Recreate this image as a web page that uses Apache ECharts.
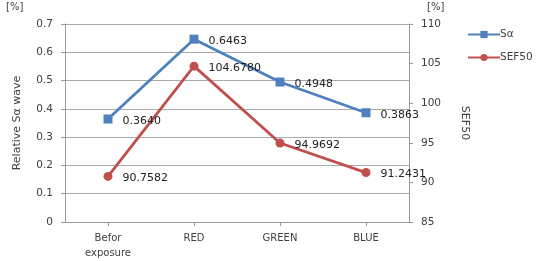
<!DOCTYPE html>
<html><head><meta charset="utf-8">
<script src="https://cdn.jsdelivr.net/npm/echarts@6/dist/echarts.min.js"></script>
<style>html,body{margin:0;padding:0;background:#fff}#c{width:542px;height:261px}</style>
</head><body><div id="c"></div>
<script>
const categories = ['Befor\nexposure', 'RED', 'GREEN', 'BLUE'];
const saValues = [0.3640, 0.6463, 0.4948, 0.3863];
const sefValues = [90.7582, 104.6780, 94.9692, 91.2431];
const seriesNames = ['S\u03b1', 'SEF50'];
const FONT = 'DejaVu Sans';
const chart = echarts.init(document.getElementById('c'), null, {renderer: 'canvas'});
const labelFmt4 = p => p.value.toFixed(4);
chart.setOption({
  animation: false,
  textStyle: {fontFamily: FONT},
  grid: {left: 65, right: 133, top: 24, bottom: 39},
  legend: {
    orient: 'vertical', left: 462, top: 24, itemGap: 12, itemWidth: 32, itemHeight: 9,
    textStyle: {fontFamily: FONT, fontSize: 10.5, color: '#404040', padding: [0,0,0,-5]},
    data: seriesNames
  },
  graphic: [
    {type: 'text', left: 6, top: 2, style: {text: '[%]', font: '10px ' + FONT, fill: '#404040'}},
    {type: 'text', left: 427, top: 2, style: {text: '[%]', font: '10px ' + FONT, fill: '#404040'}}
  ],
  xAxis: {
    type: 'category', data: categories, boundaryGap: true,
    axisLine: {lineStyle: {color: '#999', width: 1}},
    axisTick: {show: true, alignWithLabel: true, length: 4, lineStyle: {color: '#999'}},
    axisLabel: {fontFamily: FONT, fontSize: 10, color: '#404040', margin: 9, lineHeight: 15}
  },
  yAxis: [
    {
      type: 'value', min: 0, max: 0.7, interval: 0.1,
      name: 'Relative S\u03b1 wave', nameLocation: 'middle', nameGap: 42, nameRotate: 90,
      nameTextStyle: {fontFamily: FONT, fontSize: 11, color: '#404040'},
      axisLine: {show: true, lineStyle: {color: '#999'}},
      axisTick: {show: true, length: 4, lineStyle: {color: '#999'}},
      axisLabel: {fontFamily: FONT, fontSize: 10.5, color: '#404040', margin: 12, formatter: v => v === 0 ? '0' : v.toFixed(1)},
      splitLine: {lineStyle: {color: '#aaa', width: 1}}
    },
    {
      type: 'value', min: 85, max: 110, interval: 5, position: 'right',
      name: 'SEF50', nameLocation: 'middle', nameGap: 50, nameRotate: -90,
      nameTextStyle: {fontFamily: FONT, fontSize: 11, color: '#404040'},
      axisLine: {show: true, lineStyle: {color: '#999'}},
      axisTick: {show: true, length: 4, lineStyle: {color: '#999'}},
      axisLabel: {fontFamily: FONT, fontSize: 10.5, color: '#404040', margin: 12},
      splitLine: {show: false}
    }
  ],
  series: [
    {
      name: seriesNames[0], type: 'line', yAxisIndex: 0, data: saValues,
      symbol: 'rect', symbolSize: 9,
      lineStyle: {color: '#4F81BD', width: 2.8}, itemStyle: {color: '#4F81BD'},
      label: {show: true, position: 'right', distance: 10, offset: [0, 2], formatter: labelFmt4, fontFamily: FONT, fontSize: 11, color: '#222'}
    },
    {
      name: seriesNames[1], type: 'line', yAxisIndex: 1, data: sefValues,
      symbol: 'circle', symbolSize: 9,
      lineStyle: {color: '#C0504D', width: 2.8}, itemStyle: {color: '#C0504D'},
      label: {show: true, position: 'right', distance: 10, offset: [0, 2], formatter: labelFmt4, fontFamily: FONT, fontSize: 11, color: '#222'}
    }
  ]
});
</script></body></html>
